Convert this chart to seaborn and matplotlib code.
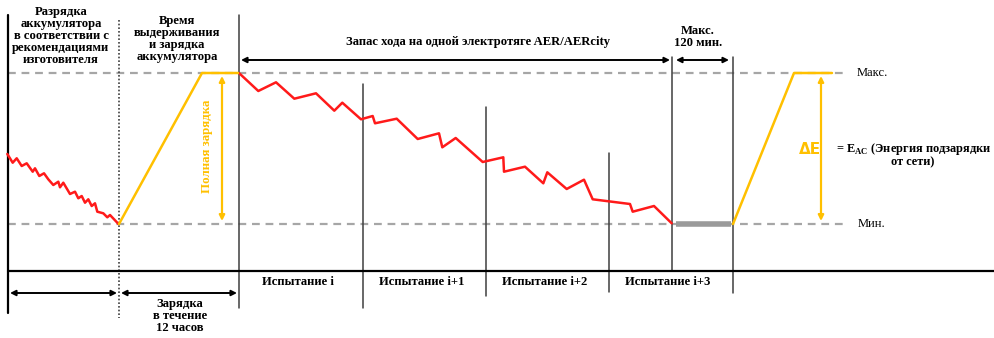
import matplotlib
matplotlib.use("Agg")
import matplotlib.pyplot as plt
import pandas as pd
import seaborn as sns

sns.set_theme(style="white")
plt.rcParams["font.family"] = ["Liberation Serif", "DejaVu Serif"]
plt.rcParams["text.color"] = "black"
plt.rcParams["mathtext.fontset"] = "custom"
plt.rcParams["mathtext.rm"] = "Liberation Serif"
plt.rcParams["mathtext.bf"] = "Liberation Serif:bold"

# Battery energy levels (canvas units, larger = lower energy)
level_max = 73
level_min = 224

# Discharge per manufacturer's recommendation
discharge_x = [7.3, 12.7, 16.7, 21.7, 26.7, 32.7, 35.0, 39.3, 44.0, 48.3, 53.3, 58.3,
               60.0, 63.3, 70.0, 75.0, 78.3, 81.7, 85.0, 88.3, 91.7, 95.0, 97.3, 103.3,
               107.3, 110.0, 118.5]
discharge_y = [154.0, 162.7, 158.3, 166.0, 163.3, 171.7, 168.3, 176.0, 173.3, 179.3, 185.0, 181.7,
               187.3, 182.7, 194.0, 191.7, 198.3, 196.0, 202.7, 199.3, 206.0, 203.3, 211.7, 213.3,
               217.3, 215.0, 224.0]

# Soak and full charge
charge_x = [119, 202, 238]
charge_y = [224, 73, 73]

# Consecutive test cycles until depletion
test_x = [239.3, 258.3, 276.0, 294.3, 316.0, 334.3, 342.3, 361.0, 372.7, 375.0, 396.7, 417.7,
          439.0, 442.3, 455.7, 482.7, 503.3, 504.0, 525.0, 543.3, 547.3, 566.7, 584.0, 592.7,
          630.0, 632.7, 654.0, 671.7]
test_y = [73.3, 91.0, 82.3, 98.7, 93.3, 110.7, 102.7, 119.3, 116.0, 123.3, 118.7, 139.0,
          133.3, 147.3, 138.0, 162.0, 157.3, 171.7, 166.7, 183.3, 172.3, 189.0, 179.7, 199.3,
          204.0, 211.7, 206.0, 223.3]

# Recharge from the mains
recharge_x = [733, 794, 832]
recharge_y = [224, 73, 73]

test_bounds = [239, 363, 486, 609, 733]
test_labels = ["Испытание i", "Испытание i+1", "Испытание i+2", "Испытание i+3"]

RED = "#ff1a1a"
ORANGE = "#ffc000"
GRAY = "#a6a6a6"
DARK = "#3f3f3f"

fig = plt.figure(figsize=(9.94, 3.38), dpi=100)
ax = fig.add_axes([0, 0, 1, 1])

# Max / Min energy reference lines
for lvl in (level_max, level_min):
    ax.plot([8, 843], [lvl, lvl], color=GRAY, lw=1.6, ls=(0, (3.5, 2.6)), zorder=1)
ax.text(857, level_max, "Макс.", fontsize=9, ha="left", va="center")
ax.text(858, level_min, "Мин.", fontsize=9, ha="left", va="center")

# Phase separators
ax.plot([8, 8], [15, 313], color="black", lw=1.6, zorder=2)
ax.plot([119, 119], [20, 318], color=DARK, lw=1.2, ls=(0, (1, 1.2)), zorder=2)
sep_tops = [15, 84, 107, 153, 57]
sep_bottoms = [308, 308, 296, 292, 293]
for x, y0, y1 in zip(test_bounds, sep_tops, sep_bottoms):
    ax.plot([x, x], [y0, y1], color=DARK, lw=1.1, zorder=2)
ax.plot([672, 672], [57, 271], color=DARK, lw=1.1, zorder=2)

# Time axis
ax.plot([8, 994], [271, 271], color="black", lw=1.6, zorder=2)

# Soak period at Min level
ax.plot([676, 731], [224, 224], color="#9a9a9a", lw=4, solid_capstyle="butt", zorder=3)

# Energy curves
curves = pd.concat([
    pd.DataFrame({"t": discharge_x, "e": discharge_y, "phase": "discharge"}),
    pd.DataFrame({"t": test_x, "e": test_y, "phase": "test"}),
    pd.DataFrame({"t": charge_x, "e": charge_y, "phase": "charge"}),
    pd.DataFrame({"t": recharge_x, "e": recharge_y, "phase": "recharge"}),
])
palette = {"discharge": RED, "test": RED, "charge": ORANGE, "recharge": ORANGE}
sns.lineplot(data=curves, x="t", y="e", hue="phase", units="phase", estimator=None,
             sort=False, palette=palette, linewidth=1.8, legend=False, ax=ax, zorder=4)
ax.set_xlim(0, 994)
ax.set_ylim(338, 0)
ax.axis("off")

def darrow(x0, x1, y, color="black", lw=1.4):
    ax.annotate("", xy=(x1, y), xytext=(x0, y),
                arrowprops=dict(arrowstyle="<|-|>", color=color, lw=lw,
                                mutation_scale=8, shrinkA=0, shrinkB=0))

def varrow(x, y0, y1, color=ORANGE, lw=1.6):
    ax.annotate("", xy=(x, y1), xytext=(x, y0),
                arrowprops=dict(arrowstyle="<|-|>", color=color, lw=lw,
                                mutation_scale=8, shrinkA=0, shrinkB=0))

darrow(241, 670, 60)
darrow(676, 729, 60)
darrow(10, 117, 293)
darrow(121, 237, 293)
varrow(222, 76, 221)
varrow(821, 76, 221)

bold = dict(fontsize=9.1, fontweight="bold", ha="center", va="center", linespacing=1.0)
ax.text(61, 36, "Разрядка\nаккумулятора\nв соответствии с\nрекомендациями\nизготовителя", **bold)
ax.text(177, 39, "Время\nвыдерживания\nи зарядка\nаккумулятора", **bold)
ax.text(478, 42, "Запас хода на одной электротяге AER/AERcity", **bold)
ax.text(698, 37, "Макс.\n120 мин.", **bold)
ax.text(180, 316, "Зарядка\nв течение\n12 часов", **bold)

for left, right, lab in zip(test_bounds[:-1], test_bounds[1:], test_labels):
    ax.text((left + right) / 2 - 3, 282, lab, **bold)

ax.text(207, 146, "Полная зарядка", color=ORANGE, fontsize=9.3, fontweight="bold",
        rotation=90, ha="center", va="center")
ax.text(810, 149, "ΔE", color=ORANGE, fontsize=11, fontweight="bold",
        family="DejaVu Sans", ha="center", va="center")
ax.text(836, 149, r"= $\mathbf{E}_{\mathbf{AC}}$ (Энергия подзарядки", fontsize=8.9,
        fontweight="bold", ha="left", va="center")
ax.text(913, 162, "от сети)", fontsize=8.9, fontweight="bold", ha="center", va="center")

fig.savefig("out.png", dpi=100, facecolor="white")
